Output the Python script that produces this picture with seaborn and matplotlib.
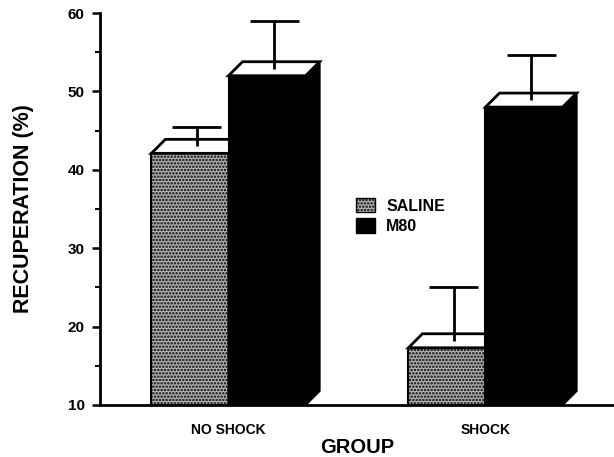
import matplotlib
matplotlib.use("Agg")
import numpy as np
import pandas as pd
import seaborn as sns
import matplotlib.pyplot as plt
from matplotlib.patches import Polygon, Patch

# ---- data ----
groups = ["NO SHOCK", "SHOCK"]
treatments = ["SALINE", "M80"]
saline_means = [42.1, 17.3]
m80_means = [52.0, 48.0]
saline_err = [3.4, 7.7]
m80_err = [7.0, 6.6]
y_ticks = [10, 20, 30, 40, 50, 60]

df = pd.DataFrame({
    "group": groups * 2,
    "treatment": ["SALINE"] * 2 + ["M80"] * 2,
    "value": saline_means + m80_means,
})
errs = {"SALINE": saline_err, "M80": m80_err}

sns.set_theme(style="white")
plt.rcParams["font.family"] = ["Liberation Sans", "DejaVu Sans"]
plt.rcParams["hatch.linewidth"] = 1.2
for key in ["text.color", "axes.labelcolor", "xtick.color", "ytick.color"]:
    plt.rcParams[key] = "black"

DPI = 100
fig = plt.figure(figsize=(6.14, 4.57), dpi=DPI)
ax = fig.add_axes([100 / 614, 1 - 405 / 457, 514 / 614, 392 / 457])

SAL_FACE = "#b4b4b4"
sns.barplot(data=df, x="group", y="value", hue="treatment", order=groups,
            hue_order=treatments, palette={"SALINE": SAL_FACE, "M80": "black"},
            width=0.6, gap=0, dodge=True, edgecolor="black", linewidth=1.5,
            legend=False, ax=ax)

ax.set_xlim(-0.5, 1.5)
ax.set_ylim(10, 60)

# 3D decoration computed from the bar patches
dx, dy = 14, 14  # pixel depth offsets
fig.canvas.draw()
to_disp = ax.transData.transform
to_data = ax.transData.inverted().transform
ybot = ax.get_ylim()[0]

for k, (cont, trt) in enumerate(zip(ax.containers, treatments)):
    zbase = 2 + k
    for j, p in enumerate(cont.patches):
        p.set_zorder(zbase)
        if trt == "SALINE":
            p.set_hatch(".....")
        L = p.get_x()
        R = L + p.get_width()
        T = p.get_y() + p.get_height()
        (Lx, Ty) = to_disp((L, T))
        (Rx, By) = to_disp((R, ybot))
        # top face
        top = to_data([(Lx, Ty), (Rx, Ty), (Rx + dx, Ty + dy), (Lx + dx, Ty + dy)])
        ax.add_patch(Polygon(top, closed=True, facecolor="white", edgecolor="black",
                             linewidth=2, zorder=zbase + 0.1))
        # side face
        side = to_data([(Rx, By), (Rx, Ty), (Rx + dx, Ty + dy), (Rx + dx, By + dy)])
        ax.add_patch(Polygon(side, closed=True, facecolor="black", edgecolor="black",
                             linewidth=1.5, zorder=zbase + 0.05))
        # error bar from top-face centre
        cx = (Lx + Rx) / 2 + dx / 2
        start = to_data([(cx, Ty + dy / 2)])[0]
        cap_y = T + errs[trt][j]
        cap_disp_y = to_disp((L, cap_y))[1]
        c0 = to_data([(cx - 24.5, cap_disp_y)])[0]
        c1 = to_data([(cx + 24.5, cap_disp_y)])[0]
        ax.plot([start[0], start[0]], [start[1], cap_y], color="black", lw=2,
                zorder=zbase + 0.2, solid_capstyle="butt")
        ax.plot([c0[0], c1[0]], [cap_y, cap_y], color="black", lw=2,
                zorder=zbase + 0.2, solid_capstyle="butt")

# axes styling
for s in ["top", "right"]:
    ax.spines[s].set_visible(False)
for s in ["left", "bottom"]:
    ax.spines[s].set_linewidth(2)
    ax.spines[s].set_color("black")

ax.set_yticks(y_ticks)
ax.set_yticks(np.arange(15, 60, 10), minor=True)
ax.tick_params(axis="y", which="major", direction="out", length=6, width=1.8,
               color="black", left=True, labelsize=11, pad=5)
ax.tick_params(axis="y", which="minor", direction="out", length=3.5, width=1.5,
               color="black", left=True)
for t in ax.get_yticklabels():
    t.set_fontweight("bold")
ax.tick_params(axis="x", length=0, pad=13, labelsize=10)
ax.set_xticks(range(len(groups)))
ax.set_xticklabels(groups)
for t in ax.get_xticklabels():
    t.set_fontweight("bold")

ax.set_ylabel("RECUPERATION (%)", fontsize=15.5, fontweight="bold", labelpad=24)
ax.set_xlabel("GROUP", fontsize=14.5, fontweight="bold", labelpad=1)

handles = [Patch(facecolor=SAL_FACE, edgecolor="black", hatch=".....", linewidth=1),
           Patch(facecolor="black", edgecolor="black")]
ax.legend(handles, treatments, loc="upper left",
          bbox_to_anchor=(348 / 614, 1 - 190 / 457), bbox_transform=fig.transFigure,
          frameon=False, prop={"weight": "bold", "size": 11.5},
          handlelength=1.2, handleheight=1.0, handletextpad=0.7, labelspacing=0.3,
          borderpad=0)

fig.savefig("out.png", dpi=DPI)
